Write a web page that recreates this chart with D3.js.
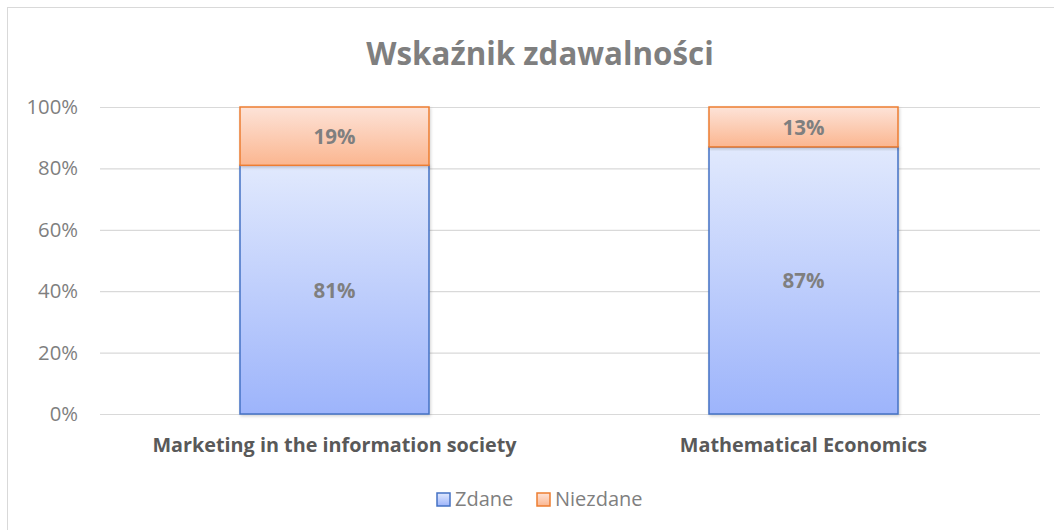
<!DOCTYPE html>
<html>
<head>
<meta charset="utf-8">
<script src="https://cdn.jsdelivr.net/npm/d3@7"></script>
<style>
  body { margin: 0; background: #fff; }
  svg { display: block; font-family: "Open Sans", "Noto Sans", sans-serif; }
</style>
</head>
<body>
<div id="chart"></div>
<script>
const categories = ["Marketing in the information society", "Mathematical Economics"];
const zdane = [0.81, 0.87];
const niezdane = [0.19, 0.13];
const seriesNames = ["Zdane", "Niezdane"];
const yTicks = [0, 0.2, 0.4, 0.6, 0.8, 1];

(function stacked_chart() {
    const width = 1054,
        height = 530,
        margin = ({ top: 107, right: 16, bottom: 116, left: 100 });
    const font = '"Open Sans", "Noto Sans", sans-serif';

    const svg = d3.select("#chart")
        .append("svg")
        .attr("width", width)
        .attr("height", height);

    // chart frame
    svg.append("rect")
        .attr("x", 7.5).attr("y", 7.5)
        .attr("width", width + 10).attr("height", height + 10)
        .attr("fill", "#fff")
        .attr("stroke", "#d9d9d9");

    const defs = svg.append("defs");
    const grads = [
        { id: "gBlue", top: "#e1e9fd", bottom: "#9db4fb" },
        { id: "gOrange", top: "#fde3d8", bottom: "#fbb690" }
    ];
    grads.forEach(g => {
        let lg = defs.append("linearGradient")
            .attr("id", g.id)
            .attr("x1", 0).attr("y1", 0).attr("x2", 0).attr("y2", 1);
        lg.append("stop").attr("offset", "0%").attr("stop-color", g.top);
        lg.append("stop").attr("offset", "100%").attr("stop-color", g.bottom);
    });
    let shadow = defs.append("filter").attr("id", "shadow")
        .attr("x", "-5%").attr("y", "-5%").attr("width", "115%").attr("height", "115%");
    shadow.append("feDropShadow")
        .attr("dx", 1).attr("dy", 1.5).attr("stdDeviation", 1.5)
        .attr("flood-color", "#000").attr("flood-opacity", 0.18);

    const data = categories.map((c, i) => ({ category: c, Zdane: zdane[i], Niezdane: niezdane[i] }));
    const stacked = d3.stack().keys(seriesNames)(data);

    let x = d3.scaleBand()
        .domain(categories)
        .range([margin.left, width - margin.right])
        .paddingInner(0.597)
        .paddingOuter(0.2985);

    let y = d3.scaleLinear()
        .domain([0, 1])
        .range([height - margin.bottom, margin.top]);

    // gridlines + y labels
    svg.append("g")
        .attr("transform", `translate(${margin.left},0)`)
        .call(d3.axisLeft(y)
            .tickValues(yTicks)
            .tickFormat(d3.format(".0%"))
            .tickSize(-(width - margin.left - margin.right + 2))
            .tickPadding(22))
        .attr("font-family", font)
        .call(g => g.select(".domain").remove())
        .call(g => g.selectAll(".tick line").attr("stroke", "#d9d9d9").attr("stroke-width", 1.2))
        .call(g => g.selectAll(".tick text")
            .attr("fill", "#7f7f7f")
            .attr("font-size", 20.3));

    const fills = { Zdane: "url(#gBlue)", Niezdane: "url(#gOrange)" };
    const strokes = { Zdane: "#4472c4", Niezdane: "#ed7d31" };

    let layers = svg.append("g").selectAll("g")
        .data(stacked)
        .join("g");

    layers.selectAll("rect")
        .data(d => d.map(v => ({ key: d.key, v })))
        .join("rect")
        .attr("x", d => x(d.v.data.category))
        .attr("y", d => y(d.v[1]))
        .attr("width", x.bandwidth())
        .attr("height", d => y(d.v[0]) - y(d.v[1]))
        .attr("fill", d => fills[d.key])
        .attr("stroke", d => strokes[d.key])
        .attr("stroke-width", 1.5)
        .attr("filter", "url(#shadow)");

    layers.selectAll("text")
        .data(d => d.map(v => ({ key: d.key, v })))
        .join("text")
        .attr("x", d => x(d.v.data.category) + x.bandwidth() / 2)
        .attr("y", d => (y(d.v[0]) + y(d.v[1])) / 2)
        .attr("text-anchor", "middle")
        .attr("dominant-baseline", "central")
        .attr("fill", "#7f7f7f")
        .attr("font-weight", "bold")
        .attr("font-size", 20.5)
        .text(d => d3.format(".0%")(d.v[1] - d.v[0]));

    // x labels
    svg.append("g")
        .attr("transform", `translate(0,${height - margin.bottom})`)
        .call(d3.axisBottom(x).tickSize(0).tickPadding(24))
        .attr("font-family", font)
        .call(g => g.select(".domain").remove())
        .call(g => g.selectAll(".tick text")
            .attr("fill", "#595959")
            .attr("font-weight", "bold")
            .attr("font-size", 19.8));

    // title
    svg.append("text")
        .attr("x", 540)
        .attr("y", 53)
        .attr("text-anchor", "middle")
        .attr("dominant-baseline", "central")
        .attr("fill", "#7f7f7f")
        .attr("font-weight", "bold")
        .attr("font-size", 31.3)
        .text("Wskaźnik zdawalności");

    // legend
    let legend = svg.append("g");
    const legendX = [437, 537];
    seriesNames.forEach((s, i) => {
        legend.append("rect")
            .attr("x", legendX[i]).attr("y", 493)
            .attr("width", 13).attr("height", 13)
            .attr("fill", fills[s])
            .attr("stroke", strokes[s])
            .attr("stroke-width", 1.5);
        legend.append("text")
            .attr("x", legendX[i] + 18).attr("y", 498)
            .attr("dominant-baseline", "central")
            .attr("fill", "#7f7f7f")
            .attr("font-size", 20)
            .text(s);
    });
})();
</script>
</body>
</html>
